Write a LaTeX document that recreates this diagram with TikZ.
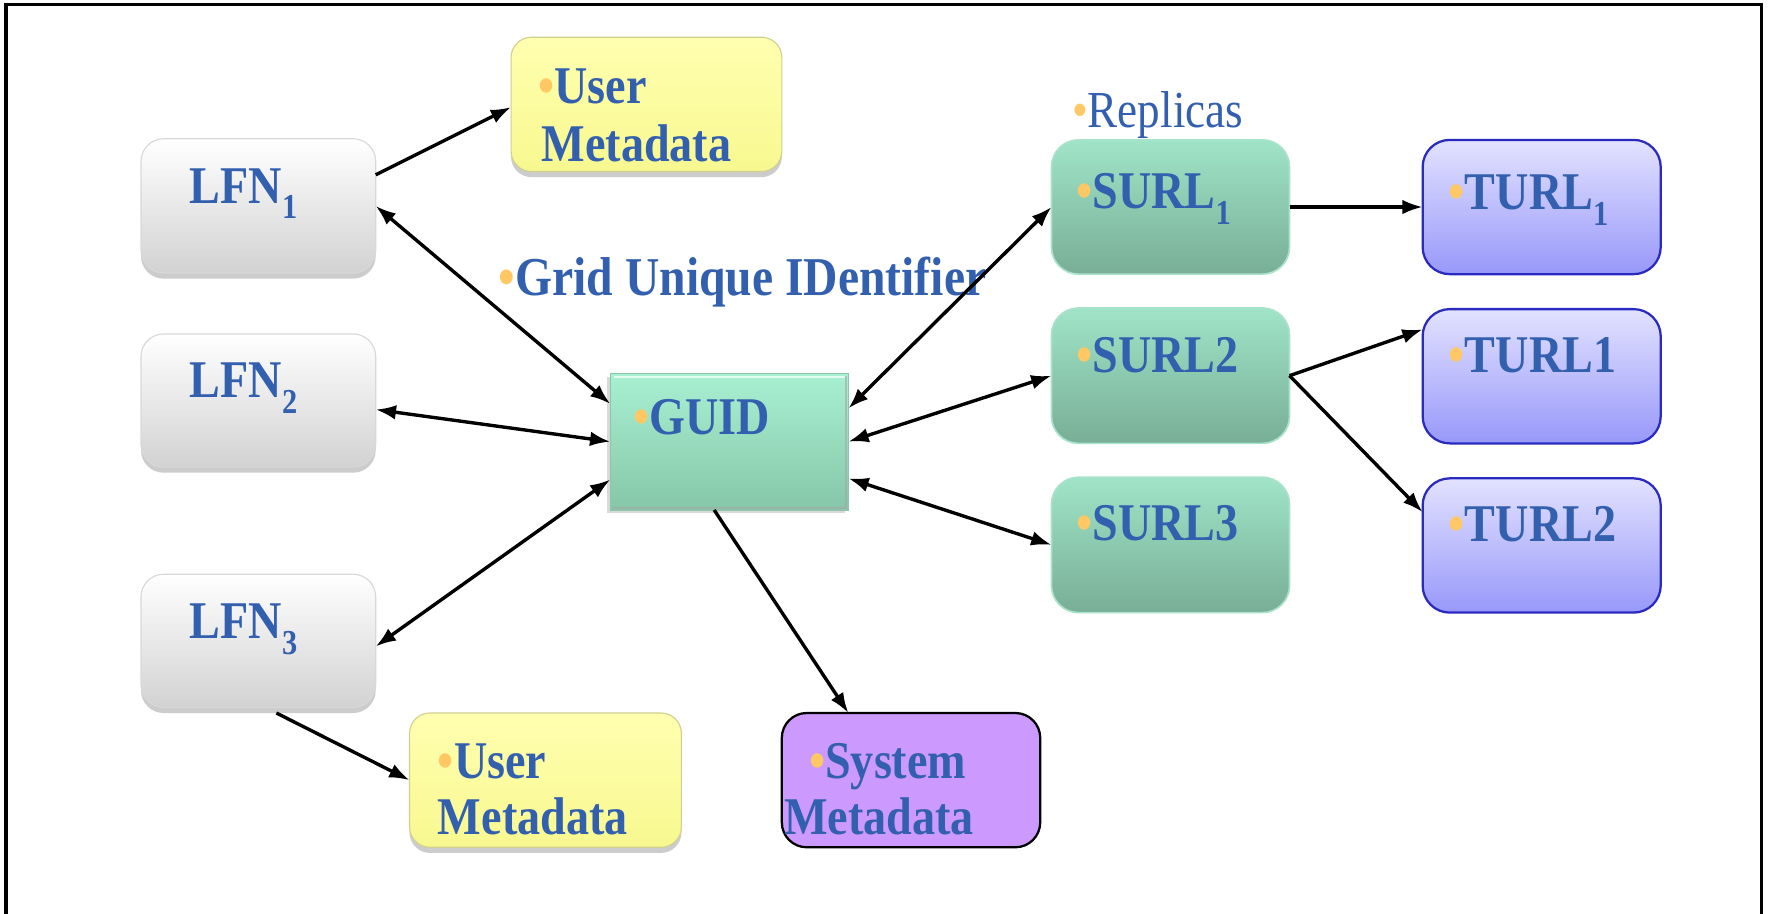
\documentclass[tikz,border=0pt]{standalone}
\usepackage{fontspec}
\setmainfont{Liberation Serif}[FakeStretch=0.87]
\usetikzlibrary{arrows.meta,calc,shadows}
\definecolor{txtblue}{HTML}{335FAF}
\definecolor{bul}{HTML}{FFC864}
\definecolor{lfnbot}{HTML}{D2D2D2}
\definecolor{lfnbd}{HTML}{D8D8D8}
\definecolor{umtop}{HTML}{FFFFB0}
\definecolor{umbot}{HTML}{F8F890}
\definecolor{umbd}{HTML}{D0D090}
\definecolor{gtop}{HTML}{A8F0D2}
\definecolor{gbot}{HTML}{86C6A8}
\definecolor{gbd}{HTML}{8CC4AC}
\definecolor{stop}{HTML}{A0E4C8}
\definecolor{sbot}{HTML}{78AE96}
\definecolor{sbd}{HTML}{A8E2CA}
\definecolor{ttop}{HTML}{E2E2FF}
\definecolor{tbot}{HTML}{9898FA}
\definecolor{tbd}{HTML}{2A2ABE}
\definecolor{sysfill}{HTML}{CC99FF}
\newcommand{\bl}{{\color{bul}•}}
\newcommand{\sbs}[1]{\raisebox{-0.3em}{\fontsize{31}{31}\selectfont #1}}
\tikzset{
  box/.style={rectangle, inner sep=0pt, outer sep=0pt},
  lfnbox/.style={box, rounded corners=20pt, top color=white, bottom color=lfnbot, draw=lfnbd, line width=1pt,
     drop shadow={shadow xshift=0pt, shadow yshift=-5pt, opacity=0.4, fill=gray}},
  umbox/.style={box, rounded corners=18pt, top color=umtop, bottom color=umbot, draw=umbd, line width=1pt,
     drop shadow={shadow xshift=0pt, shadow yshift=-5pt, opacity=0.4, fill=gray}},
  guidbox/.style={box, top color=gtop, bottom color=gbot, draw=gbd, line width=1pt,
     drop shadow={shadow xshift=-3pt, shadow yshift=-3pt, opacity=0.3, fill=gray}},
  surlbox/.style={box, rounded corners=24pt, top color=stop, bottom color=sbot, draw=sbd, line width=1.5pt},
  turlbox/.style={box, rounded corners=24pt, top color=ttop, bottom color=tbot, draw=tbd, line width=2pt},
  sysbox/.style={box, rounded corners=22pt, fill=sysfill, draw=black, line width=2pt},
  lbl/.style={inner sep=0pt, anchor=base west, text=txtblue, font=\fontsize{47}{54}\selectfont\bfseries},
  rlbl/.style={inner sep=0pt, anchor=base west, text=txtblue, font=\fontsize{46}{54}\selectfont},
  conn/.style={line width=3pt, -{Latex[length=18pt,width=13pt]}},
  bconn/.style={line width=3pt, {Latex[length=18pt,width=13pt]}-{Latex[length=18pt,width=13pt]}},
  frame/.style={line width=2.7pt, draw=black}
}
\begin{document}
\begin{tikzpicture}[x=1pt,y=-1pt]
\useasboundingbox (0,0) rectangle (1568,810);
\draw[frame] (5.3,830) -- (5.3,4.4) -- (1561,4.4) -- (1561,830);

% boxes
\node[lfnbox, minimum width=208pt, minimum height=119pt] (lfn1) at (229,182.5) {};
\node[lfnbox, minimum width=208pt, minimum height=118pt] (lfn2) at (229,355) {};
\node[lfnbox, minimum width=208pt, minimum height=118pt] (lfn3) at (229,568) {};
\node[umbox, minimum width=240pt, minimum height=119pt] (um1) at (573,92.5) {};
\node[umbox, minimum width=241pt, minimum height=119pt] (um2) at (483.5,691.5) {};
\node[guidbox, minimum width=211pt, minimum height=121pt] (guid) at (646.5,391.5) {};
\node[sysbox, minimum width=229pt, minimum height=119pt] (sys) at (807.5,691.5) {};
\node[surlbox, minimum width=211pt, minimum height=119pt] (surl1) at (1037.5,183.5) {};
\node[surlbox, minimum width=211pt, minimum height=120pt] (surl2) at (1037.5,333) {};
\node[surlbox, minimum width=211pt, minimum height=120pt] (surl3) at (1037.5,483) {};
\node[turlbox, minimum width=211pt, minimum height=119pt] (turl1) at (1366.5,183.5) {};
\node[turlbox, minimum width=211pt, minimum height=119pt] (turl1b) at (1366.5,333.5) {};
\node[turlbox, minimum width=211pt, minimum height=119pt] (turl2) at (1366.5,483.5) {};

% guid bevel highlight
\draw[white, line width=2pt, opacity=0.7] ($(guid.north west)+(3,3)$) -- ($(guid.north east)+(-3,3)$);
\draw[black!35, line width=2pt, opacity=0.6] ($(guid.south west)+(2,-2)$) -- ($(guid.south east)+(-2,-2)$) -- ($(guid.north east)+(-2,2)$);

% labels
\node[lbl] (t-lfn1) at (168,180) {LFN\sbs{1}};
\node[lbl] (t-lfn2) at (168,352) {LFN\sbs{2}};
\node[lbl] (t-lfn3) at (168,566) {LFN\sbs{3}};
\node[lbl] (t-um1a) at (477,92) {\bl User};
\node[lbl] (t-um1b) at (480,143) {Metadata};
\node[lbl] (t-um2a) at (388,690) {\bl User};
\node[lbl] (t-um2b) at (388,740) {Metadata};
\node[lbl] (t-sysa) at (717,690) {\bl System};
\node[lbl] (t-sysb) at (695,740) {Metadata};
\node[lbl] (t-guid) at (561,385) {\bl GUID};
\node[lbl, font=\fontsize{48.5}{54}\selectfont\bfseries] (t-grid) at (442,262) {\bl Grid Unique IDentifier};
\node[rlbl] (t-rep) at (950,113) {\bl Replicas};
\node[lbl] (t-s1) at (954,185) {\bl SURL\sbs{1}};
\node[lbl] (t-s2) at (954,330) {\bl SURL2};
\node[lbl] (t-s3) at (954,479) {\bl SURL3};
\node[lbl] (t-t1) at (1284,186) {\bl TURL\sbs{1}};
\node[lbl] (t-t1b) at (1284,330) {\bl TURL1};
\node[lbl] (t-t2) at (1284,480) {\bl TURL2};

% connectors
\draw[conn] ($(lfn1.north east)+(0,32)$) -- ($(um1.north west)+(0,62)$);
\draw[bconn] (lfn1.east) -- ($(guid.north west)+(0,27)$);
\draw[bconn] ($(lfn2.east)+(0,8)$) -- (guid.west);
\draw[bconn] ($(lfn3.east)+(0,5)$) -- ($(guid.south west)+(0,-27)$);
\draw[conn] ($(lfn3.south)+(16,5)$) -- (um2.west);
\draw[conn] ($(guid.south)+(-13.5,0)$) -- ($(sys.north)+(-55.5,0)$);
\draw[bconn] ($(guid.north east)+(0,31)$) -- (surl1.west);
\draw[bconn] (guid.east) -- (surl2.west);
\draw[bconn] ($(guid.south east)+(0,-28)$) -- (surl3.west);
\draw[conn] (surl1.east) -- (turl1.west);
\draw[conn] (surl2.east) -- ($(turl1b.north west)+(0,18)$);
\draw[conn] (surl2.east) -- ($(turl2.north west)+(0,30)$);
\end{tikzpicture}
\end{document}
